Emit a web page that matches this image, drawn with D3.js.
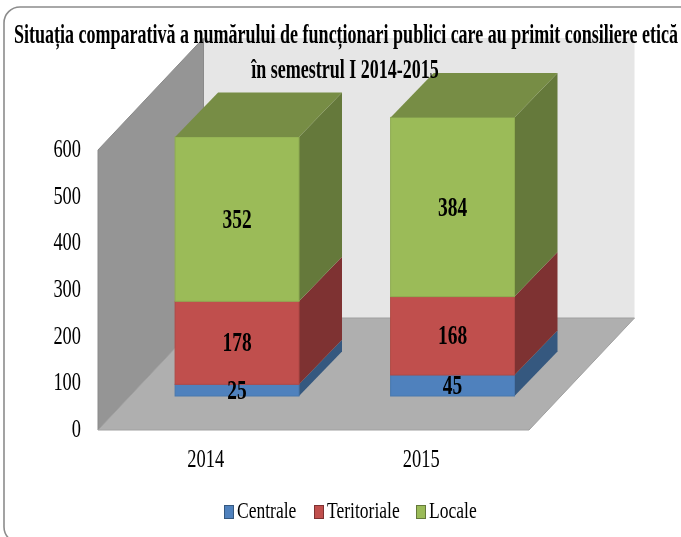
<!DOCTYPE html>
<html><head><meta charset="utf-8">
<style>html,body{margin:0;padding:0;background:#fff}svg{display:block}text{font-family:"Liberation Serif",serif;fill:#000}</style>
<script src="https://cdn.jsdelivr.net/npm/d3@7/dist/d3.min.js"></script>
</head><body><script>
const years = ["2014","2015"];
const seriesNames = ["Centrale","Teritoriale","Locale"];
const centrale = [25,45];
const teritoriale = [178,168];
const locale = [352,384];
const yTicks = [0,100,200,300,400,500,600];
const titleLines = ["Situația comparativă a numărului de funcționari publici care au primit consiliere etică","în semestrul I 2014-2015"];
const frontColors = ["#4f81bd","#c0504d","#9bbb59"];
const sideColors = ["#35587f","#7e3331","#65793a"];
const topColors = ["#3f6797","#9a403e","#778d45"];
const edgeColors = ["#4a78ae","#b04a47","#8fad52"];

const W=681,H=537;
const svg=d3.select("body").append("svg").attr("width",W).attr("height",H);
const defs=svg.append("defs");
defs.append("filter").attr("id","soft").append("feGaussianBlur").attr("stdDeviation",0.45);
const g=svg.append("g").attr("filter","url(#soft)");

const y=d3.scaleLinear().domain([0,600]).range([430,150]);
const x=d3.scaleBand().domain(years).range([98,529]).paddingInner(0.425).paddingOuter(0.2125);
const wallDx=105.5, wallDy=-112;
const barShiftX=31.3, barShiftY=-34, barDx=43, barDy=-44.5;
const pts=a=>a.map(p=>p.join(",")).join(" ");

g.append("rect").attr("x",4).attr("y",7).attr("width",740).attr("height",536).attr("rx",16)
 .attr("fill","#fff").attr("stroke","#8c8c8c").attr("stroke-width",1.6);

const x0=x.range()[0],x1=x.range()[1],yB=y(0),yT=y(600);
g.append("polygon").attr("points",pts([[x0+wallDx,yT+wallDy],[x1+wallDx,yT+wallDy],[x1+wallDx,yB+wallDy],[x0+wallDx,yB+wallDy]])).attr("fill","#e6e6e6");
g.append("polygon").attr("points",pts([[x0,yT],[x0+wallDx,yT+wallDy],[x0+wallDx,yB+wallDy],[x0,yB]])).attr("fill","#959595").attr("stroke","#8a8a8a");
g.append("polygon").attr("points",pts([[x0,yB],[x0+wallDx,yB+wallDy],[x1+wallDx,yB+wallDy],[x1,yB]])).attr("fill","#afafaf").attr("stroke","#a0a0a0");

const stack=d3.stack().keys([0,1,2]).value((d,k)=>d[k]);
const rows=years.map((_,i)=>[centrale[i],teritoriale[i],locale[i]]);
const layers=stack(rows);

years.forEach((yr,i)=>{
  const L=x(yr)+barShiftX,R=L+x.bandwidth();
  layers.forEach((lay,k)=>{
    const b=y(lay[i][0])+barShiftY,t=y(lay[i][1])+barShiftY;
    g.append("polygon").attr("points",pts([[R,b],[R+barDx,b+barDy],[R+barDx,t+barDy],[R,t]])).attr("fill",sideColors[k]);
    g.append("rect").attr("x",L).attr("y",t).attr("width",R-L).attr("height",b-t).attr("fill",frontColors[k]).attr("stroke",edgeColors[k]);
    if(k===2){
      g.append("polygon").attr("points",pts([[L,t],[L+barDx,t+barDy],[R+barDx,t+barDy],[R,t]])).attr("fill",topColors[k]);
    }
  });
});

// squeezed text helper: draw at given anchor with narrowed horizontal scale
function label(px,py,str,size,opts={}){
  const sx=opts.sx||0.78;
  return g.append("text").attr("transform",`translate(${px},${py}) scale(${sx},1)`)
    .attr("text-anchor",opts.anchor||"middle").attr("font-size",size)
    .attr("font-weight",opts.bold?"bold":"normal").text(str);
}
// title
label(346,43,titleLines[0],27,{bold:true,sx:0.667});
label(345,78,titleLines[1],27,{bold:true,sx:0.667});
// y axis
yTicks.forEach(v=>label(81,y(v)+7,String(v),26,{anchor:"end",sx:0.708}));
// x axis
years.forEach(yr=>label(x(yr)+x.bandwidth()/2,467,yr,26,{sx:0.71}));
// data labels
years.forEach((yr,i)=>{
  const c=x(yr)+x.bandwidth()/2+barShiftX;
  layers.forEach((lay,k)=>{
    const m=(y(lay[i][0])+y(lay[i][1]))/2+barShiftY;
    label(c,m+8.5,String(rows[i][k]),27,{bold:true,sx:0.72});
  });
});
// legend
const lx=[224,314,416], tx=[237,327,429];
seriesNames.forEach((s,k)=>{
  g.append("rect").attr("x",lx[k]+0.5).attr("y",505.5).attr("width",9).attr("height",13).attr("fill",frontColors[k]).attr("stroke",sideColors[k]);
  label(tx[k],518,s,23,{anchor:"start",sx:0.763});
});
</script></body></html>
